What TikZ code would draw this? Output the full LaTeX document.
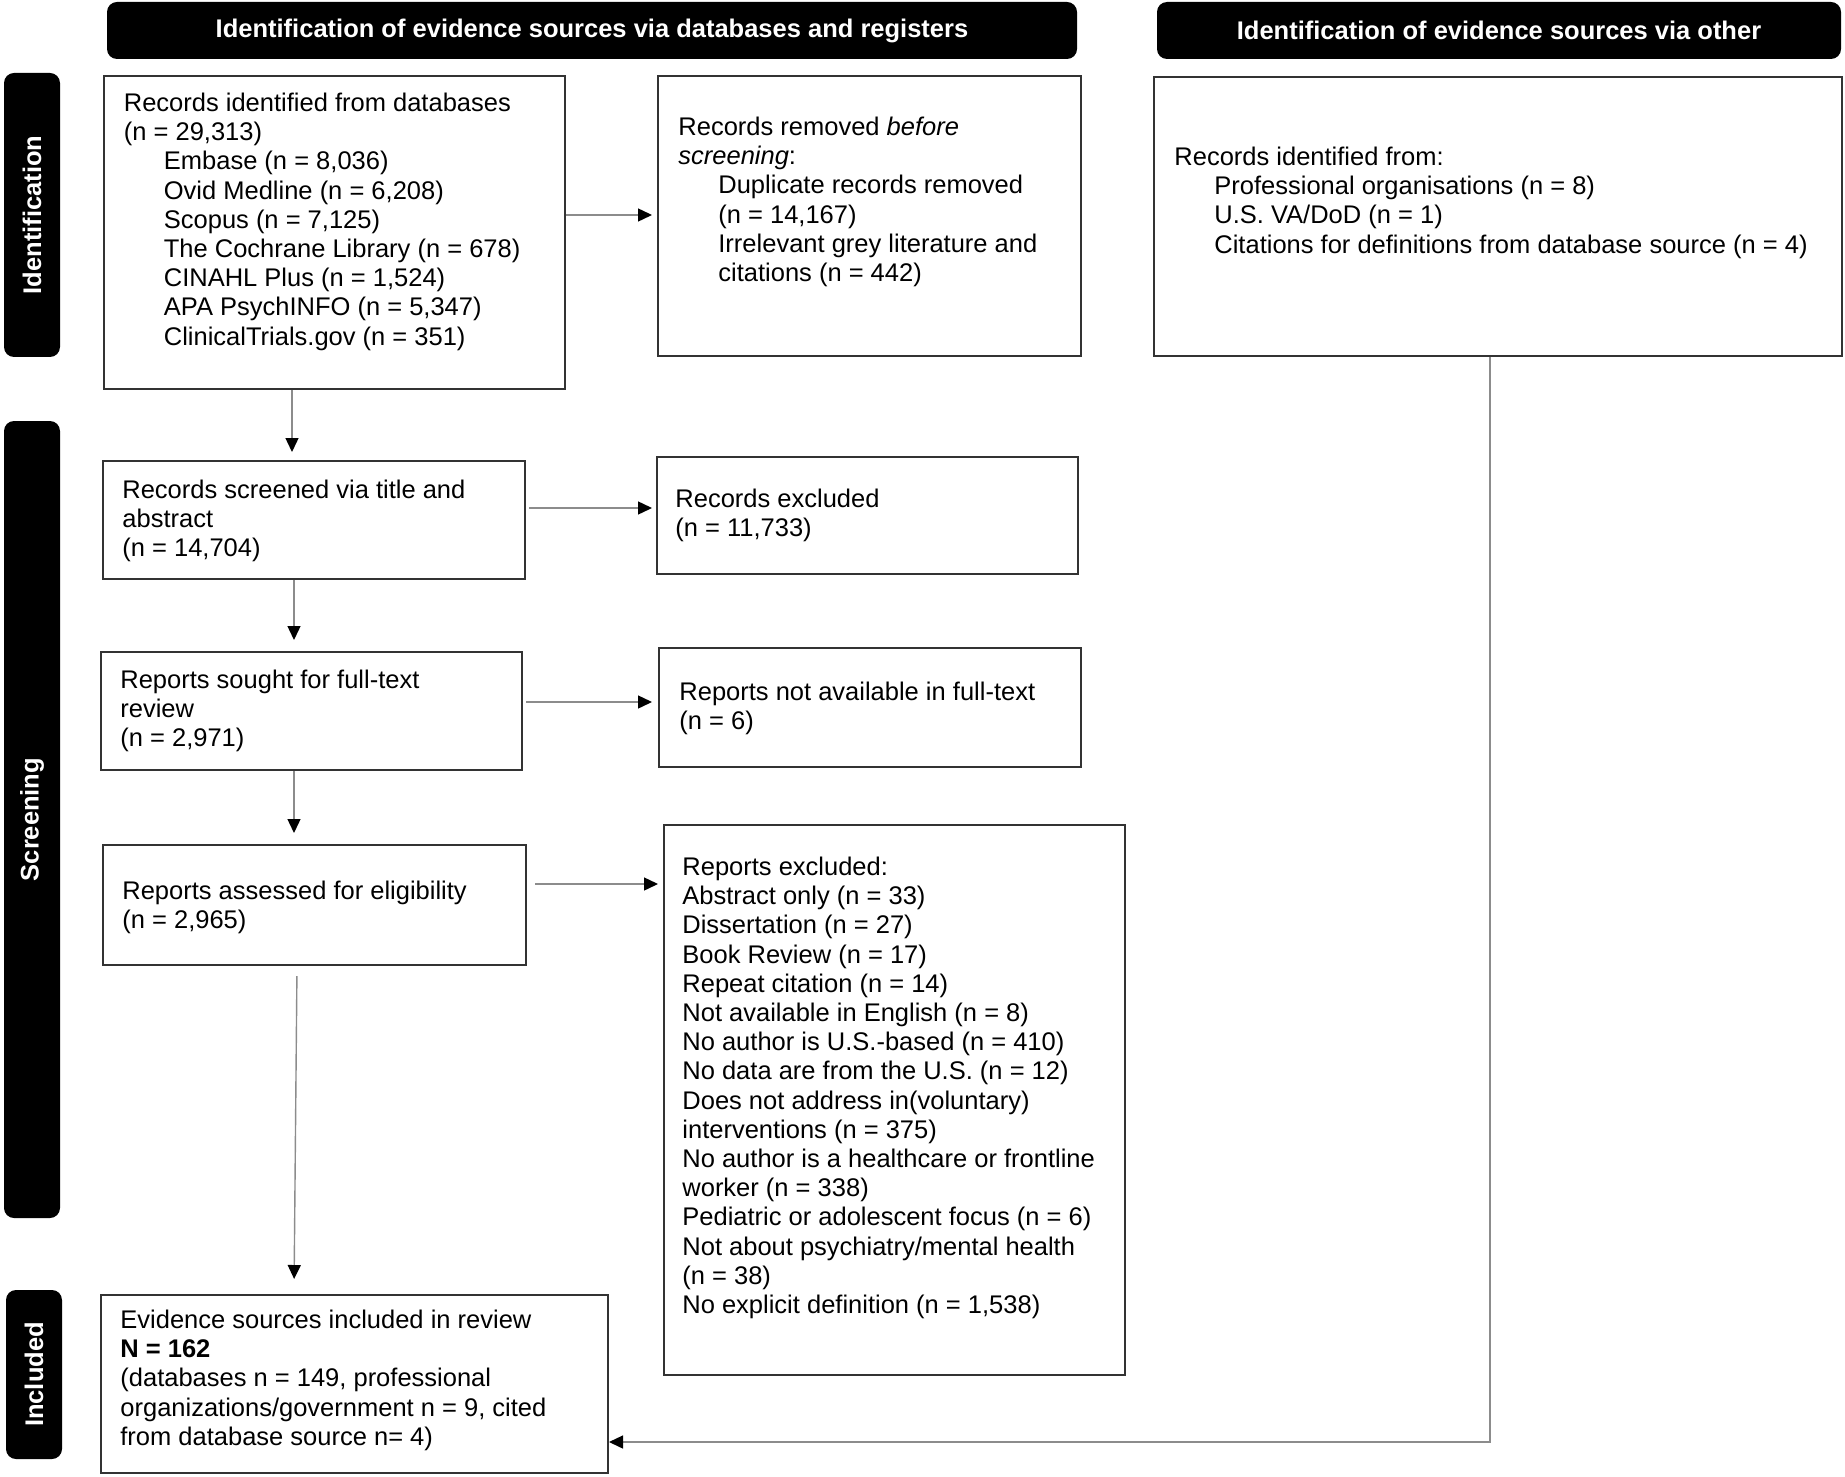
\documentclass[tikz,border=0pt]{standalone}
\usepackage{fontspec}
\setmainfont{Liberation Sans}
\usetikzlibrary{arrows.meta,fit}
\newcommand\myfs{\fontsize{12.75pt}{14.6pt}\selectfont}
\begin{document}
\begin{tikzpicture}[x=0.5pt,y=-0.5pt,
  box/.style={draw=black!80, line width=1pt, inner sep=0pt},
  hdr/.style={fill=black, rounded corners=5pt, inner sep=0pt},
  txt/.style={anchor=north west, inner sep=0pt, align=left, font=\myfs},
  wtxt/.style={text=white, font=\myfs\bfseries, inner sep=0pt},
  conn/.style={draw=black!45, line width=0.7pt, -{Triangle[length=7pt,width=6.5pt,color=black]}}]
\useasboundingbox (0,0) rectangle (1845,1476);
% headers
\node[hdr, fit={(107,2) (1077,59)}] (h1) {};
\node[wtxt] (h1t) at (h1.center) {Identification of evidence sources via databases and registers};
\node[hdr, fit={(1157,2) (1841,59)}] (h2) {};
\node[wtxt] (h2t) at (h2.center) {Identification of evidence sources via other};
% side labels
\node[hdr, fit={(4,73) (60,357)}] (s1) {};
\node[wtxt, rotate=90] (s1t) at (s1.center) {Identification};
\node[hdr, fit={(4,421) (60,1218)}] (s2) {};
\node[wtxt, rotate=90] (s2t) at (s2.center) {Screening};
\node[hdr, fit={(6,1290) (62,1459)}] (s3) {};
\node[wtxt, rotate=90] (s3t) at (s3.center) {Included};
% boxes
\node[box, fit={(104,76) (565,389)}] (b1) {};
\node[box, fit={(658,76) (1081,356)}] (b2) {};
\node[box, fit={(1154,77) (1842,356)}] (b3) {};
\node[box, fit={(103,461) (525,579)}] (b4) {};
\node[box, fit={(657,457) (1078,574)}] (b5) {};
\node[box, fit={(101,652) (522,770)}] (b6) {};
\node[box, fit={(659,648) (1081,767)}] (b7) {};
\node[box, fit={(103,845) (526,965)}] (b8) {};
\node[box, fit={(664,825) (1125,1375)}] (b9) {};
\node[box, fit={(101,1295) (608,1473)}] (b10) {};
% texts
\node[txt] (t1) at (123.5,90.6) {\strut Records identified from databases\\(n = 29,313)\\
\hspace*{20pt}Embase (n = 8,036)\\\hspace*{20pt}Ovid Medline (n = 6,208)\\
\hspace*{20pt}Scopus (n = 7,125)\\\hspace*{20pt}The Cochrane Library (n = 678)\\
\hspace*{20pt}CINAHL Plus (n = 1,524)\\\hspace*{20pt}APA PsychINFO (n = 5,347)\\
\hspace*{20pt}ClinicalTrials.gov (n = 351)};
\node[txt] (t2) at (678,114.6) {\strut Records removed \emph{before}\\\emph{screening}:\\
\hspace*{20pt}Duplicate records removed\\\hspace*{20pt}(n = 14,167)\\
\hspace*{20pt}Irrelevant grey literature and\\\hspace*{20pt}citations (n = 442)};
\node[txt] (t3) at (1174,144.6) {\strut Records identified from:\\
\hspace*{20pt}Professional organisations (n = 8)\\\hspace*{20pt}U.S. VA/DoD (n = 1)\\
\hspace*{20pt}Citations for definitions from database source (n = 4)};
\node[txt] (t4) at (122,477.6) {\strut Records screened via title and\\abstract\\(n = 14,704)};
\node[txt] (t5) at (675,486.6) {\strut Records excluded\\(n = 11,733)};
\node[txt] (t6) at (120,667.6) {\strut Reports sought for full-text\\review\\(n = 2,971)};
\node[txt] (t7) at (679,679.6) {\strut Reports not available in full-text\\(n = 6)};
\node[txt] (t8) at (122,878.6) {\strut Reports assessed for eligibility\\(n = 2,965)};
\node[txt] (t9) at (682,854.6) {\strut Reports excluded:\\Abstract only (n = 33)\\Dissertation (n = 27)\\
Book Review (n = 17)\\Repeat citation (n = 14)\\Not available in English (n = 8)\\
No author is U.S.-based (n = 410)\\No data are from the U.S. (n = 12)\\
Does not address in(voluntary)\\interventions (n = 375)\\
No author is a healthcare or frontline\\worker (n = 338)\\
Pediatric or adolescent focus (n = 6)\\Not about psychiatry/mental health\\
(n = 38)\\No explicit definition (n = 1,538)};
\node[txt] (t10) at (120,1307.6) {\strut Evidence sources included in review\\\textbf{N = 162}\\
(databases n = 149, professional\\organizations/government n = 9, cited\\from database source n= 4)};
% connector helpers
\coordinate (xa) at (292,0);
\coordinate (xb) at (294,0);
\coordinate (xc) at (297,0);
\coordinate (xr) at (1490,0);
\coordinate (ya) at (0,215);
\coordinate (yb) at (0,508);
\coordinate (yc) at (0,702);
\coordinate (yd) at (0,884);
\coordinate (yr) at (0,1442);
% connectors
\draw[conn, shorten >=4pt] (b1.south -| xa) -- (b4.north -| xa);
\draw[conn, shorten >=5.5pt] (b4.south -| xb) -- (b6.north -| xb);
\draw[conn, shorten >=5.5pt] (b6.south -| xb) -- (b8.north -| xb);
\draw[conn, shorten <=5pt, shorten >=7.5pt] (b8.south -| xc) -- (b10.north -| xb);
\draw[conn, shorten >=2.5pt] (b1.east |- ya) -- (b2.west |- ya);
\draw[conn, shorten <=1.5pt, shorten >=2pt] (b4.east |- yb) -- (b5.west |- yb);
\draw[conn, shorten <=1.5pt, shorten >=3pt] (b6.east |- yc) -- (b7.west |- yc);
\draw[conn, shorten <=4pt, shorten >=2.5pt] (b8.east |- yd) -- (b9.west |- yd);
\draw[conn] (b3.south -| xr) |- (b10.east |- yr);
\end{tikzpicture}
\end{document}
